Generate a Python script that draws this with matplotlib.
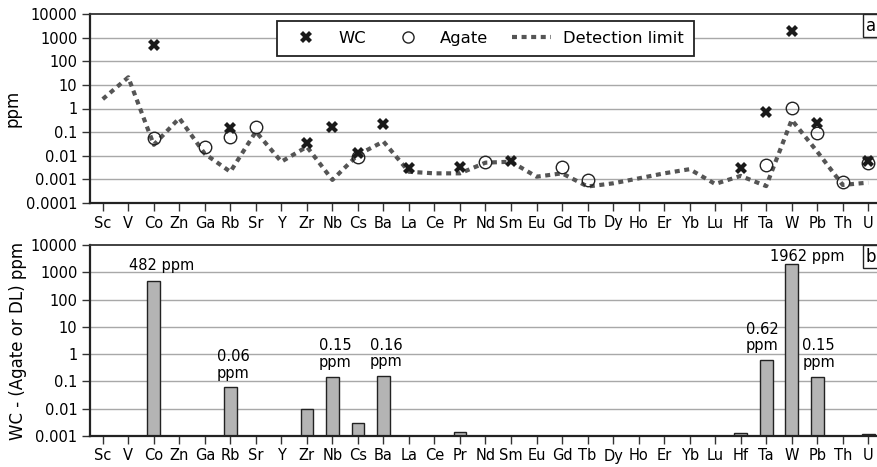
import numpy as np
import matplotlib
matplotlib.use("Agg")
import matplotlib.pyplot as plt
from matplotlib.lines import Line2D

# =============================================================================
# Data
# =============================================================================

elements = ["Sc", "V", "Co", "Zn", "Ga", "Rb", "Sr", "Y", "Zr", "Nb", "Cs",
            "Ba", "La", "Ce", "Pr", "Nd", "Sm", "Eu", "Gd", "Tb", "Dy", "Ho",
            "Er", "Yb", "Lu", "Hf", "Ta", "W", "Pb", "Th", "U"]

detection_limit = [2.5, 21, 0.029, 0.39, 0.012, 0.0021, 0.105, 0.0056, 0.024,
                   0.00095, 0.011, 0.04, 0.0021, 0.0018, 0.0018, 0.0051,
                   0.0056, 0.0013, 0.0018, 0.0005, 0.00068, 0.0011, 0.0018,
                   0.0027, 0.00064, 0.0014, 0.00052, 0.33, 0.015, 0.00058,
                   0.00073]

nan = np.nan
wc = [nan, nan, 500, nan, nan, 0.145, nan, nan, 0.034, 0.17, 0.0126,
      0.22, 0.0029, nan, 0.0035, nan, 0.0062, nan, nan, nan, nan, nan,
      nan, nan, nan, 0.0029, 0.69, 2000, 0.25, nan, 0.0062]

agate = [nan, nan, 0.055, nan, 0.024, 0.065, 0.17, nan, nan, nan, 0.0092,
         nan, nan, nan, nan, 0.0052, nan, nan, 0.0035, 0.0009, nan, nan,
         nan, nan, nan, nan, 0.0041, 1.02, 0.089, 0.00081, 0.0051]

difference = [0, 0, 482, 0, 0, 0.06, 0, 0, 0.0096, 0.15, 0.0031,
              0.16, 0, 0, 0.00145, 0, 0, 0, 0, 0, 0, 0,
              0, 0, 0, 0.0013, 0.62, 1962, 0.15, 0, 0.0012]

# labels above selected bars: element, text, offset (points)
bar_labels = [
    ("Co", "482 ppm", (6, 6)),
    ("Rb", "0.06\nppm", (2, 5)),
    ("Nb", "0.15\nppm", (2, 5)),
    ("Ba", "0.16\nppm", (2, 5)),
    ("Ta", "0.62\nppm", (-3, 5)),
    ("W", "1962 ppm", (11, 0)),
    ("Pb", "0.15\nppm", (1, 5)),
]

top_ticks = [1e-4, 1e-3, 1e-2, 1e-1, 1, 10, 100, 1000, 10000]
top_tick_labels = ["0.0001", "0.001", "0.01", "0.1", "1", "10", "100",
                   "1000", "10000"]
bottom_ticks = top_ticks[1:]
bottom_tick_labels = top_tick_labels[1:]

# =============================================================================
# Figure
# =============================================================================

plt.rcParams["font.family"] = "DejaVu Sans"
W, H = 878, 467
fig = plt.figure(figsize=(W / 100, H / 100), dpi=100)

left, right = 90, 881
ax_a = fig.add_axes([left / W, 1 - 203 / H, (right - left) / W, (203 - 14) / H])
ax_b = fig.add_axes([left / W, 1 - 436 / H, (right - left) / W, (436 - 245) / H])

x = np.arange(len(elements))
grid_color = "#a8a8a8"


def style_axes(ax, ticks, labels):
    ax.set_yscale("log")
    ax.set_xlim(-0.5, len(elements) - 0.5)
    ax.set_ylim(ticks[0], ticks[-1])
    ax.set_yticks(ticks)
    ax.set_yticklabels(labels)
    ax.minorticks_off()
    ax.set_xticks(x)
    ax.set_xticklabels(elements)
    for t in ticks[1:-1]:
        ax.axhline(t, color=grid_color, linewidth=1.0, zorder=0)
    ax.tick_params(axis="both", direction="out", length=6, width=1,
                   color="#333333", labelsize=10.5, pad=3)
    for side in ["left", "bottom"]:
        ax.spines[side].set_linewidth(1.6)
        ax.spines[side].set_color("#222222")
    ax.spines["top"].set_linewidth(1.3)
    ax.spines["top"].set_color("#333333")
    ax.spines["right"].set_visible(False)


# ---- panel a -----------------------------------------------------------------
style_axes(ax_a, top_ticks, top_tick_labels)

ax_a.plot(x, detection_limit, color="#555555", linewidth=3,
          linestyle=(0, (1.2, 1.1)), zorder=2)
ax_a.plot(x, agate, linestyle="none", marker="o", markersize=9,
          markerfacecolor="none", markeredgecolor="#222222",
          markeredgewidth=1.0, zorder=3)
ax_a.plot(x, wc, linestyle="none", marker="X", markersize=9,
          color="#1a1a1a", markeredgewidth=0, zorder=4)

ax_a.set_ylabel("ppm", fontsize=12, labelpad=3)

handles = [
    Line2D([], [], linestyle="none", marker="X", markersize=9,
           color="#1a1a1a", markeredgewidth=0),
    Line2D([], [], linestyle="none", marker="o", markersize=8,
           markerfacecolor="none", markeredgecolor="#222222"),
    Line2D([], [], color="#555555", linewidth=3, linestyle=(0, (1.2, 1.1))),
]
leg = ax_a.legend(handles, ["WC", "Agate", "Detection limit"], ncol=3,
                  loc="upper left", bbox_to_anchor=(0.236, 0.963),
                  borderaxespad=0, fontsize=11.8, frameon=True,
                  fancybox=False, edgecolor="#222222", framealpha=1,
                  handlelength=2.4, columnspacing=1.4, handletextpad=0.75,
                  borderpad=0.6)
leg.get_frame().set_linewidth(1.3)

ax_a.text(0.981, 0.985, "a", transform=ax_a.transAxes, ha="left", va="top",
          fontsize=12,
          bbox=dict(boxstyle="square,pad=0.15", facecolor="white",
                    edgecolor="#222222", linewidth=1))

# ---- panel b -----------------------------------------------------------------
style_axes(ax_b, bottom_ticks, bottom_tick_labels)

ax_b.bar(x, difference, width=0.5, color="#b4b4b4", edgecolor="#222222",
         linewidth=1.0, zorder=2)

for name, label, offset in bar_labels:
    i = elements.index(name)
    ax_b.annotate(label, xy=(i, difference[i]), xytext=offset,
                  textcoords="offset points", ha="center", va="bottom",
                  fontsize=10.5, linespacing=1.1, zorder=5)

ax_b.set_ylabel("WC - (Agate or DL) ppm", fontsize=12, labelpad=3)

ax_b.text(0.981, 0.985, "b", transform=ax_b.transAxes, ha="left", va="top",
          fontsize=12,
          bbox=dict(boxstyle="square,pad=0.15", facecolor="white",
                    edgecolor="#222222", linewidth=1))

fig.savefig("out.png", dpi=100)
